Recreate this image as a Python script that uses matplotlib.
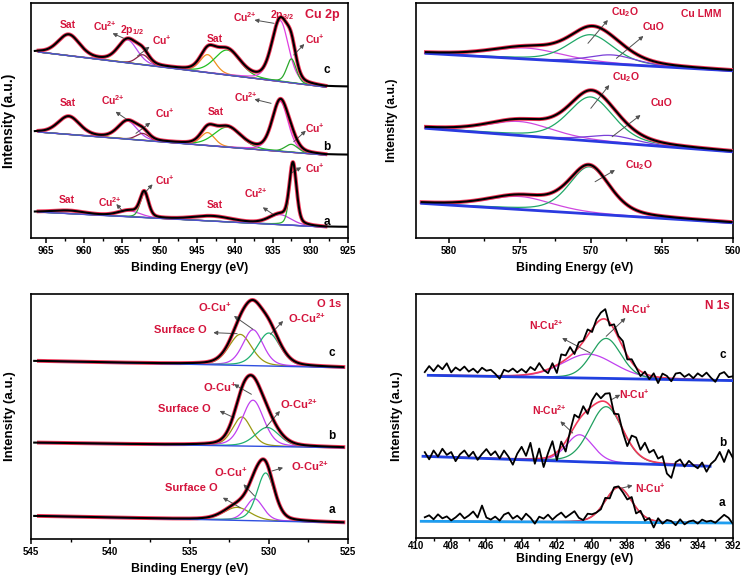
import numpy as np
import matplotlib
matplotlib.use('Agg')
import matplotlib.pyplot as plt
from matplotlib.ticker import MultipleLocator

plt.rcParams['font.family'] = ['Liberation Sans', 'DejaVu Sans']
plt.rcParams['font.weight'] = 'bold'
plt.rcParams['mathtext.fontset'] = 'custom'
plt.rcParams['mathtext.rm'] = 'Liberation Sans:bold'
plt.rcParams['mathtext.it'] = 'Liberation Sans:bold'
plt.rcParams['mathtext.bf'] = 'Liberation Sans:bold'

RED = '#d4143c'
ENV = '#f2385a'
CU2 = 'Cu$^{2{+}}$'
CU1 = 'Cu$^{+}$'

# ---------------- Cu 2p (spectra a, b, c) ----------------
cu2p_fit = (966.0, 928.0)
cu2p_data = (966.5, 925.0)
cu2p_bg_c = [186, 151]
cu2p_pos_c = [962.0, 954.2, 952.2, 943.6, 941.0, 934.0, 932.5]
cu2p_amp_c = [21, 23, 10, 18, 25, 61, 24]
cu2p_fwhm_c = [3.4, 3.0, 2.0, 2.4, 4.0, 2.6, 1.5]
cu2p_bg_b = [106, 83]
cu2p_pos_b = [962.0, 954.2, 952.2, 943.6, 941.0, 934.0, 932.5]
cu2p_amp_b = [18, 18, 7, 13, 20, 50, 8]
cu2p_fwhm_b = [3.4, 3.0, 2.0, 2.2, 4.2, 2.5, 2.0]
cu2p_bg_a = [26, 11]
cu2p_pos_a = [962.0, 954.0, 952.0, 943.0, 934.0, 932.3]
cu2p_amp_a = [3, 6, 24, 5, 10, 58]
cu2p_fwhm_a = [5.0, 3.5, 1.3, 6.0, 3.5, 1.1]
cu2p_col_cb = ['#e6cf1e', '#b848f0', '#8a2348', '#f0901e', '#22c022', '#e040e0', '#2aa82a']
cu2p_col_a = ['#40c040', '#d040e0', '#30a040', '#6060e0', '#c040e0', '#30b030']

# ---------------- Cu LMM ----------------
lmm_bg_c = [184.7, 167.3]
lmm_fit_c = (581.6, 560.1)
lmm_pos_c = [574.5, 570.0, 568.5]
lmm_amp_c = [11, 28, 9]
lmm_fwhm_c = [6.0, 3.8, 4.0]
lmm_bg_b = [109.7, 86.3]
lmm_fit_b = (581.6, 560.1)
lmm_pos_b = [575.0, 570.0, 568.5]
lmm_amp_b = [14, 44, 7]
lmm_fwhm_b = [5.5, 3.8, 4.0]
lmm_bg_a = [34.7, 15.3]
lmm_fit_a = (581.9, 560.1)
lmm_pos_a = [575.0, 570.1]
lmm_amp_a = [13, 47]
lmm_fwhm_a = [5.5, 3.4]
lmm_col = ['#d048e0', '#20a868', '#7a40d8']

# ---------------- O 1s ----------------
o1s_fit = (544.5, 525.3)
o1s_data = (544.8, 525.3)
o1s_bg_c = [178, 171.3]
o1s_pos_c = [531.8, 531.0, 530.0]
o1s_amp_c = [31, 36, 33]
o1s_fwhm_c = [1.7, 1.5, 1.7]
o1s_bg_b = [96.3, 91.3]
o1s_pos_b = [531.7, 531.0, 530.1]
o1s_amp_b = [29, 46, 19]
o1s_fwhm_b = [1.4, 1.6, 1.8]
o1s_bg_a = [23, 16.3]
o1s_pos_a = [532.0, 530.9, 530.2]
o1s_amp_a = [13, 22, 48]
o1s_fwhm_a = [2.0, 1.3, 1.3]
o1s_col = ['#9a9a12', '#c040f0', '#20b070']

# ---------------- N 1s ----------------
n1s_energy = np.linspace(409.5, 392.0, 71)
n1s_fit_c = (409.3, 392.0)
n1s_bg_c = [162.7, 157.4]
n1s_pos_c = [400.2, 399.2]
n1s_amp_c = [24, 40]
n1s_fwhm_c = [3.5, 2.0]
n1s_fit_b = (409.6, 393.3)
n1s_bg_b = [81.7, 71.7]
n1s_pos_b = [400.7, 399.2]
n1s_amp_b = [27, 56]
n1s_fwhm_b = [1.8, 2.2]
n1s_fit_a = (409.7, 392.0)
n1s_bg_a = [16.7, 15.0]
n1s_pos_a = [398.5]
n1s_amp_a = [35]
n1s_fwhm_a = [1.8]
n1s_col = ['#c040f0', '#20a060']
# measured minus fit (noise), one value per channel of n1s_energy
n1s_resid_c = [3, 9, 4, 10, 6, 12, 3, 8, 5, 9,
               4, 7, 3, 8, 5, 6, 2, -3, 6, 4,
               7, 3, 6, 2, 7, 3, 9, 1, -4, 4,
               -8, 8, 4, 9, -2, 5, 1, 6, -3, 4,
               7, 10, -3, 5, 2, 6, -4, 3, 0, -5,
               2, -4, 3, -6, 4, 2, -3, 5, 6, 2,
               5, 1, 6, 3, 7, 2, -2, 6, 8, 3,
               4]
n1s_resid_b = [4, -3, 6, 0, 8, 2, 5, -4, 3, 7,
               1, 6, -2, 4, 9, 3, 7, 0, 8, 2,
               -6, 5, 12, 3, 16, -5, 10, -9, 4, 14,
               -8, 6, -10, 3, 12, 2, 8, -4, 6, 10,
               3, 8, 12, -2, 6, -3, -8, 10, 14, 6,
               16, 8, 12, 4, 7, -10, -14, 2, 5, -2,
               4, 0, -3, 3, -6, 2, 6, 14, 4, 16,
               8]
n1s_resid_a = [4, 6, 2, 7, 3, 5, 1, 4, 8, 3,
               6, 10, 4, 16, 4, 2, 5, 1, 7, 9,
               3, 6, 2, 8, 4, -2, 5, 3, 7, 2,
               6, 9, 4, 7, 10, 3, 0, 5, 2, 0,
               -2, 3, -4, 2, 1, -3, -5, 4, -6, 2,
               -4, 1, -7, 3, -2, 2, 1, -3, 3, -2,
               1, 2, -1, 3, 1, 2, 0, 4, 8, 5,
               -1]


def pv(x, pos, amp, fwhm, eta):
    d = (x - pos) / fwhm
    return amp * ((1 - eta) * np.exp(-4 * np.log(2) * d ** 2) + eta / (1 + 4 * d ** 2))


def baseline(x, fit, bg):
    return np.interp(x, [fit[1], fit[0]], [bg[1], bg[0]])


def spectrum(ax, fit, data, bg, pos, amp, fwhm, colors, eta, bg_color,
             bg_lw=1.0, energy=None, resid=None):
    xf = np.linspace(fit[0], fit[1], 700)
    base = baseline(xf, fit, bg)
    total = np.zeros_like(xf)
    for p, a, w, c in zip(pos, amp, fwhm, colors):
        comp = pv(xf, p, a, w, eta)
        total += comp
        ax.plot(xf, base + comp, color=c, lw=0.9, zorder=2)
    ax.plot(xf, base, color=bg_color, lw=bg_lw, zorder=3.2)
    if energy is None:
        xd = np.linspace(data[0], data[1], 800)
        yd = baseline(xd, fit, bg) + sum(pv(xd, p, a, w, eta) for p, a, w in zip(pos, amp, fwhm))
        ax.plot(xf, base + total, color=ENV, lw=2.8, zorder=3)
        ax.plot(xd, yd, color='black', lw=1.5, zorder=4)
    else:
        yd = baseline(energy, fit, bg) + sum(pv(energy, p, a, w, eta) for p, a, w in zip(pos, amp, fwhm))
        yd = yd + np.array(resid)
        ax.plot(xf, base + total, color=ENV, lw=1.2, zorder=3)
        ax.plot(energy, yd, color='black', lw=1.3, zorder=4)


def annotate(ax, labels, arrows, size):
    for t, x, y in labels:
        ax.text(x, y, t, color=RED, fontsize=size, ha='center', va='center', fontweight='bold')
    for (x0, y0), (x1, y1) in arrows:
        ax.annotate('', xy=(x1, y1), xytext=(x0, y0),
                    arrowprops=dict(arrowstyle='-|>', color='#505050', lw=0.7,
                                    mutation_scale=6, shrinkA=0, shrinkB=0))


def style(ax, xlim, ylim, major, minor, xl_y, yl_x, yl_size, tick_len=3.5, pad=2):
    ax.set_xlim(*xlim)
    ax.set_ylim(*ylim)
    ax.set_yticks([])
    ax.xaxis.set_major_locator(MultipleLocator(major))
    ax.xaxis.set_minor_locator(MultipleLocator(minor))
    ax.tick_params(axis='x', which='major', direction='out', length=tick_len, width=1.1,
                   labelsize=7, pad=pad)
    ax.tick_params(axis='x', which='minor', direction='out', length=2, width=1.0)
    for lab in ax.get_xticklabels():
        lab.set_fontweight('bold')
    for s in ax.spines.values():
        s.set_linewidth(1.2)
    ax.set_xlabel('Binding Energy (eV)', fontsize=8.8, fontweight='bold')
    ax.xaxis.set_label_coords(0.5, xl_y)
    ax.set_ylabel('Intensity (a.u.)', fontsize=yl_size, fontweight='bold')
    ax.yaxis.set_label_coords(yl_x, 0.5)


fig = plt.figure(figsize=(7.46, 5.82), dpi=100)
ax1 = fig.add_axes([0.0416, 0.591, 0.425, 0.4038])
ax2 = fig.add_axes([0.5576, 0.591, 0.4249, 0.4038])
ax3 = fig.add_axes([0.0416, 0.0739, 0.425, 0.421])
ax4 = fig.add_axes([0.5576, 0.0756, 0.4249, 0.4192])

# Cu 2p
spectrum(ax1, cu2p_fit, cu2p_data, cu2p_bg_c, cu2p_pos_c, cu2p_amp_c, cu2p_fwhm_c, cu2p_col_cb, 0.3, '#5050d0')
spectrum(ax1, cu2p_fit, cu2p_data, cu2p_bg_b, cu2p_pos_b, cu2p_amp_b, cu2p_fwhm_b, cu2p_col_cb, 0.3, '#5050d0')
spectrum(ax1, cu2p_fit, cu2p_data, cu2p_bg_a, cu2p_pos_a, cu2p_amp_a, cu2p_fwhm_a, cu2p_col_a, 0.3, '#5050d0')
cu2p_labels = [('Sat', 962.1, 213), (CU2, 957.2, 212), ('2p$_{1/2}$', 953.6, 208),
               (CU1, 949.7, 198), ('Sat', 942.6, 199), (CU2, 938.7, 221),
               ('2p$_{3/2}$', 933.7, 223), (CU1, 929.4, 199),
               ('Sat', 962.1, 135), (CU2, 956.2, 138), (CU1, 949.2, 125),
               ('Sat', 942.5, 126), (CU2, 938.5, 141), (CU1, 929.4, 110),
               ('Sat', 962.3, 38), (CU2, 956.6, 36), (CU1, 949.2, 58),
               ('Sat', 942.6, 33), (CU2, 937.2, 45), (CU1, 929.4, 70)]
cu2p_arrows = [((954.7, 199.7), (956.2, 204.7)), ((952.9, 182), (951.3, 191.3)),
               ((934.8, 214.7), (937.4, 218)), ((932.2, 183), (930.8, 194)),
               ((954.2, 118), (955.8, 126.3)), ((953.1, 104.7), (951.2, 115.3)),
               ((935.2, 134.7), (937.4, 138.7)), ((932.2, 96.3), (930.6, 107.3)),
               ((954.8, 26.3), (955.7, 34)), ((952.0, 44.7), (950.9, 53.7)),
               ((934.8, 23), (936.3, 30.7)), ((932.6, 64.7), (931.2, 70.7))]
annotate(ax1, cu2p_labels, cu2p_arrows, 7.5)
ax1.text(928.4, 223, 'Cu 2p', color=RED, fontsize=9, ha='center', va='center')
for t, y in [('c', 168), ('b', 91), ('a', 16)]:
    ax1.text(927.8, y, t, color='black', fontsize=8.5, ha='center', va='center')
style(ax1, (967, 925), (0, 235), 5, 2.5, -0.1, -0.047, 10)

# Cu LMM
spectrum(ax2, lmm_fit_c, lmm_fit_c, lmm_bg_c, lmm_pos_c, lmm_amp_c, lmm_fwhm_c, lmm_col, 0.4, '#2a3ae0', 2.0)
spectrum(ax2, lmm_fit_b, lmm_fit_b, lmm_bg_b, lmm_pos_b, lmm_amp_b, lmm_fwhm_b, lmm_col, 0.4, '#2a3ae0', 2.0)
spectrum(ax2, lmm_fit_a, lmm_fit_a, lmm_bg_a, lmm_pos_a, lmm_amp_a, lmm_fwhm_a, lmm_col, 0.4, '#2a3ae0', 2.0)
lmm_labels = [('Cu$_2$O', 567.6, 226), ('CuO', 565.6, 211),
              ('Cu$_2$O', 567.5, 161), ('CuO', 565.0, 135),
              ('Cu$_2$O', 566.6, 73)]
lmm_arrows = [((570.2, 194.7), (568.8, 218)), ((568.2, 179.7), (566.3, 202)),
              ((570.0, 129.7), (568.7, 153)), ((568.5, 101.3), (566.5, 123)),
              ((569.7, 56.3), (568.3, 68))]
annotate(ax2, lmm_labels, lmm_arrows, 7.5)
ax2.text(562.2, 224, 'Cu LMM', color=RED, fontsize=7.5, ha='center', va='center')
style(ax2, (582.3, 560), (0, 235), 5, 2.5, -0.1, -0.057, 8.8)

# O 1s
spectrum(ax3, o1s_fit, o1s_data, o1s_bg_c, o1s_pos_c, o1s_amp_c, o1s_fwhm_c, o1s_col, 0.3, '#3050e0')
spectrum(ax3, o1s_fit, o1s_data, o1s_bg_b, o1s_pos_b, o1s_amp_b, o1s_fwhm_b, o1s_col, 0.3, '#3050e0')
spectrum(ax3, o1s_fit, o1s_data, o1s_bg_a, o1s_pos_a, o1s_amp_a, o1s_fwhm_a, o1s_col, 0.3, '#3050e0')
o1s_labels = [('O-Cu$^{+}$', 533.4, 231.3), ('O-Cu$^{2{+}}$', 527.6, 220.7), ('Surface O', 535.6, 208.7),
              ('O-Cu$^{+}$', 533.1, 151.3), ('Surface O', 535.3, 129.7), ('O-Cu$^{2{+}}$', 528.1, 134.7),
              ('O-Cu$^{+}$', 532.4, 66.3), ('O-Cu$^{2{+}}$', 527.4, 73), ('Surface O', 534.9, 50.7)]
o1s_arrows = [((531.0, 209.7), (532.2, 223)), ((529.9, 204.7), (529.1, 218)),
              ((532.0, 205.3), (533.5, 206.3)),
              ((531.1, 144.7), (532.2, 154.7)), ((532.2, 121.3), (533.1, 128)),
              ((530.2, 111.3), (529.3, 128)),
              ((530.9, 43), (531.6, 54.7)), ((529.8, 68), (529.1, 71.3)),
              ((531.8, 31.3), (532.9, 41.3))]
annotate(ax3, o1s_labels, o1s_arrows, 8)
ax3.text(526.2, 234.7, 'O 1s', color=RED, fontsize=8, ha='center', va='center')
for t, y in [('c', 186.3), ('b', 103), ('a', 28.7)]:
    ax3.text(526.0, y, t, color='black', fontsize=8.5, ha='center', va='center')
style(ax3, (545, 525), (0, 245), 5, 2.5, -0.1, -0.047, 9.5)

# N 1s
spectrum(ax4, n1s_fit_c, None, n1s_bg_c, n1s_pos_c, n1s_amp_c, n1s_fwhm_c, n1s_col, 0.2, '#2040e0', 2.0,
         n1s_energy, n1s_resid_c)
spectrum(ax4, n1s_fit_b, None, n1s_bg_b, n1s_pos_b, n1s_amp_b, n1s_fwhm_b, n1s_col, 0.2, '#2040e0', 2.0,
         n1s_energy, n1s_resid_b)
spectrum(ax4, n1s_fit_a, None, n1s_bg_a, n1s_pos_a, n1s_amp_a, n1s_fwhm_a, n1s_col[1:], 0.2, '#1e9ef0', 2.0,
         n1s_energy, n1s_resid_a)
n1s_labels = [('N-Cu$^{2{+}}$', 402.6, 213.3), ('N-Cu$^{+}$', 397.5, 228.3),
              ('N-Cu$^{2{+}}$', 402.4, 128.3), ('N-Cu$^{+}$', 397.6, 143.3),
              ('N-Cu$^{+}$', 396.7, 50)]
n1s_arrows = [((400.1, 185), (401.7, 200)), ((399.2, 201.7), (398.1, 220)),
              ((401.1, 105), (401.8, 116.7)), ((398.9, 138.3), (398.4, 143.3)),
              ((398.3, 50), (397.7, 52.5))]
annotate(ax4, n1s_labels, n1s_arrows, 7.5)
ax4.text(392.9, 231.7, 'N 1s', color=RED, fontsize=8.5, ha='center', va='center')
for t, y in [('c', 183.3), ('b', 95), ('a', 35)]:
    ax4.text(392.6, y, t, color='black', fontsize=8.5, ha='center', va='center')
style(ax4, (410, 392), (0, 244), 2, 1, -0.06, -0.041, 9.5, tick_len=2, pad=0.5)

fig.savefig('out.png', dpi=100)
